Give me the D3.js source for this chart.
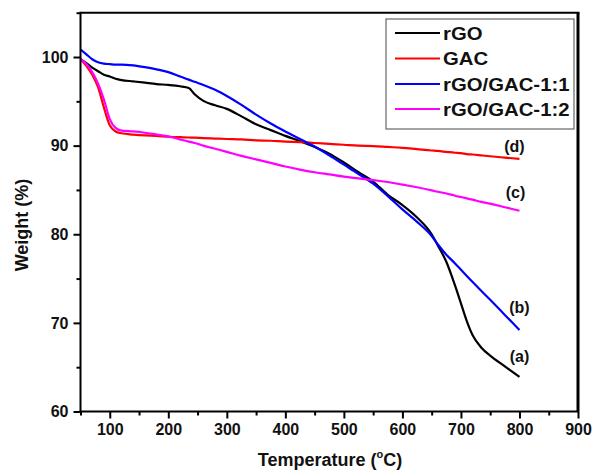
<!DOCTYPE html>
<html>
<head>
<meta charset="utf-8">
<script src="https://cdn.jsdelivr.net/npm/d3@7"></script>
<style>
  html, body { margin: 0; padding: 0; background: #fff; }
  svg { display: block; }
  text { font-family: "Liberation Sans", Arial, sans-serif; font-weight: bold; fill: #111; }
</style>
</head>
<body>
<svg id="chart" width="593" height="470"></svg>
<script>
// Thermogravimetric curves: temperature (°C) vs remaining weight (%)
const temperature = [50, 60, 70, 80, 90, 100, 110, 120, 140, 160, 180, 200, 220, 235, 245, 260, 280, 300, 325, 350, 375, 400, 425, 450, 475, 500, 525, 550, 575, 600, 625, 650, 660, 675, 690, 700, 710, 720, 735, 750, 775, 800];

const rGO = [99.75, 99.3, 98.8, 98.4, 98.0, 97.8, 97.55, 97.4, 97.25, 97.1, 96.95, 96.85, 96.7, 96.5, 95.8, 95.05, 94.55, 94.15, 93.3, 92.4, 91.75, 91.1, 90.5, 89.85, 89.1, 88.1, 87.0, 85.95, 84.45, 83.3, 81.9, 80.0, 78.8, 76.9, 74.2, 72.2, 70.2, 68.6, 67.2, 66.3, 65.1, 63.9];

const GAC = [99.75, 99.0, 98.0, 96.6, 94.3, 92.3, 91.6, 91.4, 91.25, 91.15, 91.1, 91.0, 90.95, 90.92, 90.9, 90.85, 90.8, 90.75, 90.7, 90.6, 90.55, 90.45, 90.4, 90.3, 90.2, 90.1, 90.0, 89.95, 89.85, 89.75, 89.6, 89.45, 89.4, 89.3, 89.2, 89.15, 89.05, 89.0, 88.9, 88.8, 88.65, 88.5];

const rGO_GAC_11 = [100.85, 100.3, 99.75, 99.4, 99.25, 99.2, 99.15, 99.15, 99.05, 98.85, 98.6, 98.3, 97.8, 97.45, 97.2, 96.85, 96.3, 95.6, 94.6, 93.5, 92.5, 91.6, 90.75, 89.9, 88.9, 87.85, 86.8, 85.7, 84.3, 82.8, 81.4, 79.8, 78.9, 77.7, 76.7, 76.0, 75.3, 74.6, 73.6, 72.6, 70.9, 69.2];

const rGO_GAC_12 = [99.75, 99.2, 98.3, 97.0, 95.2, 93.0, 92.0, 91.7, 91.6, 91.45, 91.25, 91.05, 90.7, 90.45, 90.3, 90.0, 89.65, 89.3, 88.85, 88.45, 88.05, 87.65, 87.3, 87.0, 86.75, 86.5, 86.3, 86.1, 85.9, 85.6, 85.3, 84.95, 84.8, 84.6, 84.35, 84.2, 84.05, 83.9, 83.65, 83.45, 83.05, 82.65];

const seriesNames = ["rGO", "GAC", "rGO/GAC-1:1", "rGO/GAC-1:2"];
const seriesValues = [rGO, GAC, rGO_GAC_11, rGO_GAC_12];
const seriesColors = ["#000000", "#ff0000", "#0000ff", "#ff00ff"];

// Curve tags placed at the end of each trace
const curveTags = ["(a)", "(d)", "(b)", "(c)"];

const xMajorTicks = [100, 200, 300, 400, 500, 600, 700, 800, 900];
const xMinorTicks = [50, 150, 250, 350, 450, 550, 650, 750, 850];
const yMajorTicks = [60, 70, 80, 90, 100];
const yMinorTicks = [65, 75, 85, 95, 105];

const svg = d3.select("#chart");
const plotLeft = 80.5, plotRight = 578, plotTop = 12.7, plotBottom = 411.5;

const x = d3.scaleLinear().domain([50, 900]).range([plotLeft, plotRight]);
const y = d3.scaleLinear().domain([60, 105]).range([plotBottom, plotTop]);

// Traces
const line = d3.line()
  .x(d => x(d[0]))
  .y(d => y(d[1]))
  .curve(d3.curveMonotoneX);

seriesValues.forEach((vals, i) => {
  const pts = temperature.map((t, j) => [t, vals[j]]);
  svg.append("path")
    .attr("d", line(pts))
    .attr("fill", "none")
    .attr("stroke", seriesColors[i])
    .attr("stroke-width", 2.2)
    .attr("stroke-linejoin", "round");
});

// Bottom axis: major ticks with labels, minor ticks without
const gxMajor = svg.append("g")
  .attr("transform", `translate(0,${plotBottom})`)
  .call(d3.axisBottom(x).tickValues(xMajorTicks).tickSize(7).tickPadding(5).tickFormat(d3.format("d")));
const gxMinor = svg.append("g")
  .attr("transform", `translate(0,${plotBottom})`)
  .call(d3.axisBottom(x).tickValues(xMinorTicks).tickSize(4).tickFormat(""));

// Left axis
const gyMajor = svg.append("g")
  .attr("transform", `translate(${plotLeft},0)`)
  .call(d3.axisLeft(y).tickValues(yMajorTicks).tickSize(7).tickPadding(5).tickFormat(d3.format("d")));
const gyMinor = svg.append("g")
  .attr("transform", `translate(${plotLeft},0)`)
  .call(d3.axisLeft(y).tickValues(yMinorTicks).tickSize(4).tickFormat(""));

[gxMajor, gxMinor, gyMajor, gyMinor].forEach(g => {
  g.select(".domain").remove();
  g.selectAll(".tick line").attr("stroke", "#000").attr("stroke-width", 2);
  g.selectAll(".tick text")
    .attr("font-size", 16)
    .attr("font-family", "'Liberation Sans', Arial, sans-serif")
    .attr("font-weight", "bold")
    .attr("fill", "#111");
});

// Frame
svg.append("line").attr("x1", plotLeft).attr("x2", plotLeft).attr("y1", plotTop).attr("y2", plotBottom)
  .attr("stroke", "#000").attr("stroke-width", 2);
svg.append("line").attr("x1", plotLeft - 1).attr("x2", plotRight + 1).attr("y1", plotBottom).attr("y2", plotBottom)
  .attr("stroke", "#000").attr("stroke-width", 2);
svg.append("line").attr("x1", plotLeft - 1).attr("x2", plotRight + 1.5).attr("y1", plotTop).attr("y2", plotTop)
  .attr("stroke", "#000").attr("stroke-width", 2);
svg.append("line").attr("x1", plotRight).attr("x2", plotRight).attr("y1", plotTop).attr("y2", plotBottom)
  .attr("stroke", "#000").attr("stroke-width", 3);

// Curve tags at the 800 °C end of each trace
const tagOffsets = [[0, -20], [-5, -12], [0, -22], [-4, -18]];
seriesValues.forEach((vals, i) => {
  const last = vals[vals.length - 1];
  svg.append("text")
    .attr("x", x(800) + tagOffsets[i][0])
    .attr("y", y(last) + tagOffsets[i][1])
    .attr("text-anchor", "middle")
    .attr("dominant-baseline", "central")
    .attr("font-size", 16)
    .text(curveTags[i]);
});

// Axis titles
svg.append("text")
  .attr("transform", `translate(22,225) rotate(-90)`)
  .attr("text-anchor", "middle")
  .attr("dominant-baseline", "central")
  .attr("font-size", 18)
  .text("Weight (%)");

const xt = svg.append("text")
  .attr("x", 330)
  .attr("y", 466)
  .attr("text-anchor", "middle")
  .attr("font-size", 18);
xt.append("tspan").text("Temperature (");
xt.append("tspan").attr("font-size", 11).attr("dy", -8).text("o");
xt.append("tspan").attr("dy", 8).text("C)");

// Legend
const legend = svg.append("g");
legend.append("rect")
  .attr("x", 386).attr("y", 19).attr("width", 188).attr("height", 110)
  .attr("fill", "#fff").attr("stroke", "#666").attr("stroke-width", 1.2);
const legendRowY = [33, 58.5, 84, 109];
seriesNames.forEach((name, i) => {
  legend.append("line")
    .attr("x1", 395).attr("x2", 440)
    .attr("y1", legendRowY[i]).attr("y2", legendRowY[i])
    .attr("stroke", seriesColors[i]).attr("stroke-width", 2.2);
  const t = legend.append("text")
    .attr("x", 443).attr("y", legendRowY[i])
    .attr("dominant-baseline", "central")
    .attr("font-size", 19)
    .text(name);
  // widen slightly so the labels fill the box as in the original layout
  const w = t.node().getComputedTextLength();
  t.attr("textLength", w * 1.07).attr("lengthAdjust", "spacingAndGlyphs");
});
</script>
</body>
</html>
